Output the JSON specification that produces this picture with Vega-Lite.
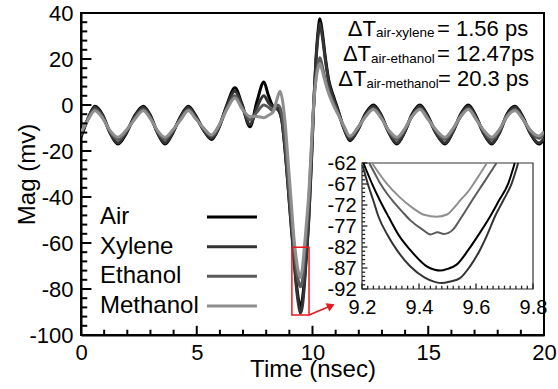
{
"$schema": "https://vega.github.io/schema/vega-lite/v6.json",
"width": 463, "height": 322,
"autosize": {"type": "none"},
"padding": {"left": 81, "top": 13, "right": 14, "bottom": 54},
"config": {
  "font": "Liberation Sans",
  "view": {"stroke": "black", "strokeWidth": 2},
  "axis": {"grid": false, "labelColor": "black", "titleColor": "black", "tickColor": "black", "domainColor": "black", "labelFont": "Liberation Sans", "titleFont": "Liberation Sans", "titleFontWeight": "normal"}
},
"datasets": {
  "xmajor": [{"t":0},{"t":5},{"t":10},{"t":15},{"t":20}],
  "xminor": [{"t":1},{"t":2},{"t":3},{"t":4},{"t":6},{"t":7},{"t":8},{"t":9},{"t":11},{"t":12},{"t":13},{"t":14},{"t":16},{"t":17},{"t":18},{"t":19}],
  "ymajor": [{"v":-100},{"v":-80},{"v":-60},{"v":-40},{"v":-20},{"v":0},{"v":20},{"v":40}],
  "yminor": [{"v":-96},{"v":-92},{"v":-88},{"v":-84},{"v":-76},{"v":-72},{"v":-68},{"v":-64},{"v":-56},{"v":-52},{"v":-48},{"v":-44},{"v":-36},{"v":-32},{"v":-28},{"v":-24},{"v":-16},{"v":-12},{"v":-8},{"v":-4},{"v":4},{"v":8},{"v":12},{"v":16},{"v":24},{"v":28},{"v":32},{"v":36}],
  "ixmajor": [{"t":9.2},{"t":9.4},{"t":9.6},{"t":9.8}],
  "ixminor": [{"t":9.22},{"t":9.24},{"t":9.26},{"t":9.28},{"t":9.3},{"t":9.32},{"t":9.34},{"t":9.36},{"t":9.38},{"t":9.42},{"t":9.44},{"t":9.46},{"t":9.48},{"t":9.5},{"t":9.52},{"t":9.54},{"t":9.56},{"t":9.58},{"t":9.62},{"t":9.64},{"t":9.66},{"t":9.68},{"t":9.7},{"t":9.72},{"t":9.74},{"t":9.76},{"t":9.78}],
  "iymajor": [{"v":-92},{"v":-87},{"v":-82},{"v":-77},{"v":-72},{"v":-67},{"v":-62}],
  "iyminor": [{"v":-91},{"v":-90},{"v":-89},{"v":-88},{"v":-86},{"v":-85},{"v":-84},{"v":-83},{"v":-81},{"v":-80},{"v":-79},{"v":-78},{"v":-76},{"v":-75},{"v":-74},{"v":-73},{"v":-71},{"v":-70},{"v":-69},{"v":-68},{"v":-66},{"v":-65},{"v":-64},{"v":-63}],
  "main": [
    {"series":"Air","time":0,"mag":-14},{"series":"Air","time":0.3,"mag":-6},{"series":"Air","time":0.6,"mag":-0.5},{"series":"Air","time":0.95,"mag":-4.5},{"series":"Air","time":1.25,"mag":-12},{"series":"Air","time":1.6,"mag":-17},{"series":"Air","time":1.95,"mag":-12.5},{"series":"Air","time":2.3,"mag":-5},{"series":"Air","time":2.69,"mag":-0.5},{"series":"Air","time":3.0,"mag":-4.5},{"series":"Air","time":3.3,"mag":-12},{"series":"Air","time":3.63,"mag":-17},{"series":"Air","time":3.95,"mag":-12.5},{"series":"Air","time":4.3,"mag":-5},{"series":"Air","time":4.64,"mag":-0.5},{"series":"Air","time":4.95,"mag":-4.5},{"series":"Air","time":5.3,"mag":-11},{"series":"Air","time":5.64,"mag":-15},{"series":"Air","time":5.95,"mag":-10},{"series":"Air","time":6.3,"mag":0},{"series":"Air","time":6.65,"mag":7.5},{"series":"Air","time":6.95,"mag":0.5},{"series":"Air","time":7.3,"mag":-9.5},{"series":"Air","time":7.6,"mag":1.5},{"series":"Air","time":7.9,"mag":10},{"series":"Air","time":8.1,"mag":4},{"series":"Air","time":8.31,"mag":-0.7},{"series":"Air","time":8.5,"mag":-1.5},{"series":"Air","time":8.68,"mag":-7},{"series":"Air","time":8.8,"mag":-18},{"series":"Air","time":8.95,"mag":-36},{"series":"Air","time":9.08,"mag":-52},{"series":"Air","time":9.2,"mag":-66},{"series":"Air","time":9.3,"mag":-77},{"series":"Air","time":9.4,"mag":-85},{"series":"Air","time":9.48,"mag":-88},{"series":"Air","time":9.57,"mag":-84},{"series":"Air","time":9.66,"mag":-75},{"series":"Air","time":9.75,"mag":-63},{"series":"Air","time":9.85,"mag":-47},{"series":"Air","time":9.95,"mag":-25},{"series":"Air","time":10.05,"mag":0},{"series":"Air","time":10.15,"mag":20},{"series":"Air","time":10.25,"mag":33},{"series":"Air","time":10.32,"mag":37.5},{"series":"Air","time":10.42,"mag":32},{"series":"Air","time":10.55,"mag":21},{"series":"Air","time":10.7,"mag":11},{"series":"Air","time":10.9,"mag":4},{"series":"Air","time":11.1,"mag":-2},{"series":"Air","time":11.35,"mag":-10},{"series":"Air","time":11.62,"mag":-15.5},{"series":"Air","time":11.95,"mag":-11},{"series":"Air","time":12.3,"mag":-3.5},{"series":"Air","time":12.63,"mag":0},{"series":"Air","time":12.95,"mag":-4},{"series":"Air","time":13.3,"mag":-12},{"series":"Air","time":13.64,"mag":-17},{"series":"Air","time":13.97,"mag":-12},{"series":"Air","time":14.3,"mag":-4},{"series":"Air","time":14.64,"mag":0},{"series":"Air","time":14.97,"mag":-4.5},{"series":"Air","time":15.35,"mag":-12.5},{"series":"Air","time":15.72,"mag":-17},{"series":"Air","time":16.05,"mag":-12},{"series":"Air","time":16.4,"mag":-4},{"series":"Air","time":16.73,"mag":0},{"series":"Air","time":17.05,"mag":-4.5},{"series":"Air","time":17.4,"mag":-12.5},{"series":"Air","time":17.74,"mag":-17},{"series":"Air","time":18.08,"mag":-12},{"series":"Air","time":18.4,"mag":-4},{"series":"Air","time":18.75,"mag":-0.5},{"series":"Air","time":19.08,"mag":-5},{"series":"Air","time":19.42,"mag":-12.5},{"series":"Air","time":19.78,"mag":-17},{"series":"Air","time":20,"mag":-15},
    {"series":"Xylene","time":0,"mag":-13.5},{"series":"Xylene","time":0.3,"mag":-6},{"series":"Xylene","time":0.6,"mag":-1},{"series":"Xylene","time":0.95,"mag":-5},{"series":"Xylene","time":1.25,"mag":-12},{"series":"Xylene","time":1.6,"mag":-16.5},{"series":"Xylene","time":1.95,"mag":-12},{"series":"Xylene","time":2.3,"mag":-5.5},{"series":"Xylene","time":2.69,"mag":-1},{"series":"Xylene","time":3.0,"mag":-5},{"series":"Xylene","time":3.3,"mag":-12},{"series":"Xylene","time":3.63,"mag":-16.5},{"series":"Xylene","time":3.95,"mag":-12},{"series":"Xylene","time":4.3,"mag":-5.5},{"series":"Xylene","time":4.64,"mag":-1},{"series":"Xylene","time":4.95,"mag":-5},{"series":"Xylene","time":5.3,"mag":-11},{"series":"Xylene","time":5.64,"mag":-14.5},{"series":"Xylene","time":5.95,"mag":-10},{"series":"Xylene","time":6.3,"mag":-0.5},{"series":"Xylene","time":6.65,"mag":6},{"series":"Xylene","time":6.95,"mag":0},{"series":"Xylene","time":7.3,"mag":-8.5},{"series":"Xylene","time":7.6,"mag":-1},{"series":"Xylene","time":7.9,"mag":4},{"series":"Xylene","time":8.1,"mag":1},{"series":"Xylene","time":8.31,"mag":-1},{"series":"Xylene","time":8.5,"mag":-2},{"series":"Xylene","time":8.68,"mag":-7},{"series":"Xylene","time":8.8,"mag":-18},{"series":"Xylene","time":8.95,"mag":-36},{"series":"Xylene","time":9.08,"mag":-53},{"series":"Xylene","time":9.2,"mag":-67},{"series":"Xylene","time":9.3,"mag":-79},{"series":"Xylene","time":9.4,"mag":-87},{"series":"Xylene","time":9.48,"mag":-90.5},{"series":"Xylene","time":9.57,"mag":-87},{"series":"Xylene","time":9.66,"mag":-77},{"series":"Xylene","time":9.75,"mag":-64},{"series":"Xylene","time":9.85,"mag":-48},{"series":"Xylene","time":9.95,"mag":-26},{"series":"Xylene","time":10.05,"mag":-1},{"series":"Xylene","time":10.15,"mag":19},{"series":"Xylene","time":10.25,"mag":31},{"series":"Xylene","time":10.32,"mag":35.5},{"series":"Xylene","time":10.42,"mag":30},{"series":"Xylene","time":10.55,"mag":20},{"series":"Xylene","time":10.7,"mag":10},{"series":"Xylene","time":10.9,"mag":3},{"series":"Xylene","time":11.1,"mag":-2.5},{"series":"Xylene","time":11.35,"mag":-10},{"series":"Xylene","time":11.62,"mag":-15},{"series":"Xylene","time":11.95,"mag":-11},{"series":"Xylene","time":12.3,"mag":-4},{"series":"Xylene","time":12.63,"mag":-0.5},{"series":"Xylene","time":12.95,"mag":-4.5},{"series":"Xylene","time":13.3,"mag":-12},{"series":"Xylene","time":13.64,"mag":-16.5},{"series":"Xylene","time":13.97,"mag":-12},{"series":"Xylene","time":14.3,"mag":-4.5},{"series":"Xylene","time":14.64,"mag":-0.5},{"series":"Xylene","time":14.97,"mag":-5},{"series":"Xylene","time":15.35,"mag":-12.5},{"series":"Xylene","time":15.72,"mag":-16.5},{"series":"Xylene","time":16.05,"mag":-12},{"series":"Xylene","time":16.4,"mag":-4.5},{"series":"Xylene","time":16.73,"mag":-0.5},{"series":"Xylene","time":17.05,"mag":-5},{"series":"Xylene","time":17.4,"mag":-12.5},{"series":"Xylene","time":17.74,"mag":-16.5},{"series":"Xylene","time":18.08,"mag":-12},{"series":"Xylene","time":18.4,"mag":-4.5},{"series":"Xylene","time":18.75,"mag":-1},{"series":"Xylene","time":19.08,"mag":-5.5},{"series":"Xylene","time":19.42,"mag":-12.5},{"series":"Xylene","time":19.78,"mag":-16.5},{"series":"Xylene","time":20,"mag":-14.5},
    {"series":"Ethanol","time":0,"mag":-12.5},{"series":"Ethanol","time":0.3,"mag":-6},{"series":"Ethanol","time":0.6,"mag":-2},{"series":"Ethanol","time":0.95,"mag":-5.5},{"series":"Ethanol","time":1.25,"mag":-11.5},{"series":"Ethanol","time":1.6,"mag":-15},{"series":"Ethanol","time":1.95,"mag":-11.5},{"series":"Ethanol","time":2.3,"mag":-6},{"series":"Ethanol","time":2.69,"mag":-2},{"series":"Ethanol","time":3.0,"mag":-5.5},{"series":"Ethanol","time":3.3,"mag":-11.5},{"series":"Ethanol","time":3.63,"mag":-15},{"series":"Ethanol","time":3.95,"mag":-11.5},{"series":"Ethanol","time":4.3,"mag":-6},{"series":"Ethanol","time":4.64,"mag":-2},{"series":"Ethanol","time":4.95,"mag":-5.5},{"series":"Ethanol","time":5.3,"mag":-10.5},{"series":"Ethanol","time":5.64,"mag":-13.5},{"series":"Ethanol","time":5.95,"mag":-9.5},{"series":"Ethanol","time":6.3,"mag":-1.5},{"series":"Ethanol","time":6.65,"mag":4},{"series":"Ethanol","time":6.95,"mag":-1},{"series":"Ethanol","time":7.3,"mag":-6.5},{"series":"Ethanol","time":7.6,"mag":-3},{"series":"Ethanol","time":7.9,"mag":0},{"series":"Ethanol","time":8.1,"mag":-1},{"series":"Ethanol","time":8.3,"mag":-2.5},{"series":"Ethanol","time":8.5,"mag":0},{"series":"Ethanol","time":8.68,"mag":-4},{"series":"Ethanol","time":8.8,"mag":-14},{"series":"Ethanol","time":8.95,"mag":-32},{"series":"Ethanol","time":9.08,"mag":-48},{"series":"Ethanol","time":9.2,"mag":-62},{"series":"Ethanol","time":9.3,"mag":-71},{"series":"Ethanol","time":9.4,"mag":-77},{"series":"Ethanol","time":9.48,"mag":-79},{"series":"Ethanol","time":9.57,"mag":-76},{"series":"Ethanol","time":9.66,"mag":-65},{"series":"Ethanol","time":9.75,"mag":-55},{"series":"Ethanol","time":9.85,"mag":-40},{"series":"Ethanol","time":9.95,"mag":-20},{"series":"Ethanol","time":10.05,"mag":0},{"series":"Ethanol","time":10.15,"mag":12},{"series":"Ethanol","time":10.25,"mag":18.5},{"series":"Ethanol","time":10.32,"mag":20.5},{"series":"Ethanol","time":10.42,"mag":17},{"series":"Ethanol","time":10.55,"mag":11},{"series":"Ethanol","time":10.7,"mag":6},{"series":"Ethanol","time":10.9,"mag":1},{"series":"Ethanol","time":11.1,"mag":-3.5},{"series":"Ethanol","time":11.35,"mag":-9.5},{"series":"Ethanol","time":11.62,"mag":-14},{"series":"Ethanol","time":11.95,"mag":-10},{"series":"Ethanol","time":12.3,"mag":-4.5},{"series":"Ethanol","time":12.63,"mag":-1.5},{"series":"Ethanol","time":12.95,"mag":-5},{"series":"Ethanol","time":13.3,"mag":-11.5},{"series":"Ethanol","time":13.64,"mag":-15},{"series":"Ethanol","time":13.97,"mag":-11},{"series":"Ethanol","time":14.3,"mag":-5},{"series":"Ethanol","time":14.64,"mag":-1.5},{"series":"Ethanol","time":14.97,"mag":-5.5},{"series":"Ethanol","time":15.35,"mag":-11.5},{"series":"Ethanol","time":15.72,"mag":-15},{"series":"Ethanol","time":16.05,"mag":-11},{"series":"Ethanol","time":16.4,"mag":-5},{"series":"Ethanol","time":16.73,"mag":-1.5},{"series":"Ethanol","time":17.05,"mag":-5.5},{"series":"Ethanol","time":17.4,"mag":-11.5},{"series":"Ethanol","time":17.74,"mag":-15},{"series":"Ethanol","time":18.08,"mag":-11},{"series":"Ethanol","time":18.4,"mag":-5},{"series":"Ethanol","time":18.75,"mag":-2},{"series":"Ethanol","time":19.08,"mag":-6},{"series":"Ethanol","time":19.42,"mag":-11.5},{"series":"Ethanol","time":19.78,"mag":-14.5},{"series":"Ethanol","time":20,"mag":-12.5},
    {"series":"Methanol","time":0,"mag":-12},{"series":"Methanol","time":0.3,"mag":-6.5},{"series":"Methanol","time":0.6,"mag":-2.5},{"series":"Methanol","time":0.95,"mag":-6},{"series":"Methanol","time":1.25,"mag":-11},{"series":"Methanol","time":1.6,"mag":-14},{"series":"Methanol","time":1.95,"mag":-11},{"series":"Methanol","time":2.3,"mag":-6.5},{"series":"Methanol","time":2.69,"mag":-2.5},{"series":"Methanol","time":3.0,"mag":-6},{"series":"Methanol","time":3.3,"mag":-11},{"series":"Methanol","time":3.63,"mag":-14},{"series":"Methanol","time":3.95,"mag":-11},{"series":"Methanol","time":4.3,"mag":-6.5},{"series":"Methanol","time":4.64,"mag":-2.5},{"series":"Methanol","time":4.95,"mag":-6},{"series":"Methanol","time":5.3,"mag":-10},{"series":"Methanol","time":5.64,"mag":-13},{"series":"Methanol","time":5.95,"mag":-9},{"series":"Methanol","time":6.3,"mag":-2},{"series":"Methanol","time":6.65,"mag":3},{"series":"Methanol","time":6.95,"mag":-1.5},{"series":"Methanol","time":7.3,"mag":-5},{"series":"Methanol","time":7.6,"mag":-5},{"series":"Methanol","time":7.9,"mag":-5.5},{"series":"Methanol","time":8.1,"mag":-4.5},{"series":"Methanol","time":8.3,"mag":-3},{"series":"Methanol","time":8.45,"mag":2},{"series":"Methanol","time":8.6,"mag":6},{"series":"Methanol","time":8.72,"mag":1},{"series":"Methanol","time":8.82,"mag":-8},{"series":"Methanol","time":8.95,"mag":-25},{"series":"Methanol","time":9.08,"mag":-42},{"series":"Methanol","time":9.2,"mag":-58},{"series":"Methanol","time":9.3,"mag":-67},{"series":"Methanol","time":9.4,"mag":-73},{"series":"Methanol","time":9.47,"mag":-75},{"series":"Methanol","time":9.55,"mag":-72},{"series":"Methanol","time":9.64,"mag":-63},{"series":"Methanol","time":9.75,"mag":-50},{"series":"Methanol","time":9.85,"mag":-37},{"series":"Methanol","time":9.95,"mag":-18},{"series":"Methanol","time":10.05,"mag":0},{"series":"Methanol","time":10.15,"mag":11},{"series":"Methanol","time":10.25,"mag":16.5},{"series":"Methanol","time":10.32,"mag":18},{"series":"Methanol","time":10.42,"mag":15},{"series":"Methanol","time":10.55,"mag":10},{"series":"Methanol","time":10.7,"mag":5},{"series":"Methanol","time":10.9,"mag":0},{"series":"Methanol","time":11.1,"mag":-4},{"series":"Methanol","time":11.35,"mag":-9},{"series":"Methanol","time":11.62,"mag":-13.5},{"series":"Methanol","time":11.95,"mag":-10},{"series":"Methanol","time":12.3,"mag":-5},{"series":"Methanol","time":12.63,"mag":-2},{"series":"Methanol","time":12.95,"mag":-5.5},{"series":"Methanol","time":13.3,"mag":-11},{"series":"Methanol","time":13.64,"mag":-14},{"series":"Methanol","time":13.97,"mag":-10.5},{"series":"Methanol","time":14.3,"mag":-5},{"series":"Methanol","time":14.64,"mag":-2},{"series":"Methanol","time":14.97,"mag":-6},{"series":"Methanol","time":15.35,"mag":-11},{"series":"Methanol","time":15.72,"mag":-14},{"series":"Methanol","time":16.05,"mag":-10.5},{"series":"Methanol","time":16.4,"mag":-5},{"series":"Methanol","time":16.73,"mag":-2},{"series":"Methanol","time":17.05,"mag":-6},{"series":"Methanol","time":17.4,"mag":-11},{"series":"Methanol","time":17.74,"mag":-14},{"series":"Methanol","time":18.08,"mag":-10.5},{"series":"Methanol","time":18.4,"mag":-5},{"series":"Methanol","time":18.75,"mag":-2.5},{"series":"Methanol","time":19.08,"mag":-6},{"series":"Methanol","time":19.42,"mag":-11},{"series":"Methanol","time":19.78,"mag":-13.5},{"series":"Methanol","time":20,"mag":-11.5}
  ],
  "inset": [
    {"series":"Air","time":9.205,"mag":-62},{"series":"Air","time":9.235,"mag":-66.9},{"series":"Air","time":9.262,"mag":-70.8},{"series":"Air","time":9.293,"mag":-74.8},{"series":"Air","time":9.33,"mag":-79.3},{"series":"Air","time":9.369,"mag":-82.7},{"series":"Air","time":9.4,"mag":-85},{"series":"Air","time":9.427,"mag":-86.6},{"series":"Air","time":9.455,"mag":-87.4},{"series":"Air","time":9.474,"mag":-87.6},{"series":"Air","time":9.5,"mag":-87.2},{"series":"Air","time":9.532,"mag":-86.2},{"series":"Air","time":9.573,"mag":-82.7},{"series":"Air","time":9.61,"mag":-79},{"series":"Air","time":9.649,"mag":-74.8},{"series":"Air","time":9.68,"mag":-71},{"series":"Air","time":9.713,"mag":-66.9},{"series":"Air","time":9.736,"mag":-62},
    {"series":"Xylene","time":9.202,"mag":-62.5},{"series":"Xylene","time":9.22,"mag":-66.9},{"series":"Xylene","time":9.24,"mag":-71},{"series":"Xylene","time":9.258,"mag":-74.8},{"series":"Xylene","time":9.29,"mag":-79.2},{"series":"Xylene","time":9.322,"mag":-82.7},{"series":"Xylene","time":9.369,"mag":-86.6},{"series":"Xylene","time":9.42,"mag":-89.3},{"series":"Xylene","time":9.455,"mag":-90.3},{"series":"Xylene","time":9.48,"mag":-90.6},{"series":"Xylene","time":9.51,"mag":-90.2},{"series":"Xylene","time":9.544,"mag":-89.4},{"series":"Xylene","time":9.579,"mag":-86.6},{"series":"Xylene","time":9.614,"mag":-82.7},{"series":"Xylene","time":9.64,"mag":-79},{"series":"Xylene","time":9.666,"mag":-74.8},{"series":"Xylene","time":9.695,"mag":-71},{"series":"Xylene","time":9.725,"mag":-66.9},{"series":"Xylene","time":9.748,"mag":-62},
    {"series":"Ethanol","time":9.225,"mag":-62},{"series":"Ethanol","time":9.245,"mag":-64.5},{"series":"Ethanol","time":9.264,"mag":-66.9},{"series":"Ethanol","time":9.29,"mag":-69.5},{"series":"Ethanol","time":9.31,"mag":-71.2},{"series":"Ethanol","time":9.34,"mag":-73.5},{"series":"Ethanol","time":9.369,"mag":-75.6},{"series":"Ethanol","time":9.415,"mag":-78},{"series":"Ethanol","time":9.44,"mag":-79},{"series":"Ethanol","time":9.465,"mag":-78.5},{"series":"Ethanol","time":9.487,"mag":-78.9},{"series":"Ethanol","time":9.52,"mag":-77.8},{"series":"Ethanol","time":9.55,"mag":-74.8},{"series":"Ethanol","time":9.59,"mag":-70.5},{"series":"Ethanol","time":9.625,"mag":-66.9},{"series":"Ethanol","time":9.672,"mag":-62},
    {"series":"Methanol","time":9.235,"mag":-62},{"series":"Methanol","time":9.26,"mag":-64.5},{"series":"Methanol","time":9.287,"mag":-66.9},{"series":"Methanol","time":9.33,"mag":-70},{"series":"Methanol","time":9.38,"mag":-72.8},{"series":"Methanol","time":9.421,"mag":-74.4},{"series":"Methanol","time":9.462,"mag":-74.8},{"series":"Methanol","time":9.5,"mag":-74.2},{"series":"Methanol","time":9.525,"mag":-72.5},{"series":"Methanol","time":9.546,"mag":-70.8},{"series":"Methanol","time":9.57,"mag":-69},{"series":"Methanol","time":9.592,"mag":-66.9},{"series":"Methanol","time":9.615,"mag":-64.5},{"series":"Methanol","time":9.638,"mag":-62}
  ]
},
"layer": [
  {
    "layer": [
      {
        "data": {"name": "main"},
        "mark": {"type": "line", "interpolate": "monotone", "strokeWidth": 3, "clip": true},
        "encoding": {
          "x": {"field": "time", "type": "quantitative", "scale": {"domain": [0, 20], "nice": false, "zero": false},
            "axis": {"values": [0, 5, 10, 15, 20], "labelExpr": "'' + datum.value", "ticks": false,
              "domainWidth": 2, "labelFontSize": 22, "labelPadding": 7, "labelOverlap": false, "labelFlush": false,
              "title": "Time (nsec)", "titleFontSize": 24, "titlePadding": -6}},
          "y": {"field": "mag", "type": "quantitative", "scale": {"domain": [-100, 40], "nice": false, "zero": false},
            "axis": {"values": [-100, -80, -60, -40, -20, 0, 20, 40], "labelExpr": "'' + datum.value", "ticks": false,
              "domainWidth": 2, "labelFontSize": 22, "labelPadding": 8, "labelOverlap": false, "labelFlush": false,
              "title": "Mag (mv)", "titleFontSize": 24, "titlePadding": -11}},
          "color": {"field": "series", "type": "nominal", "scale": {"domain": ["Air", "Xylene", "Ethanol", "Methanol"], "range": ["#000000", "#333333", "#5a5a5a", "#8f8f8f"]}, "legend": null}
        }
      },
      {"data": {"name": "xmajor"}, "mark": {"type": "rule", "color": "black", "strokeWidth": 2},
       "encoding": {"x": {"field": "t", "type": "quantitative"}, "y": {"datum": -100, "type": "quantitative"}, "y2": {"datum": -96.0}}},
      {"data": {"name": "xminor"}, "mark": {"type": "rule", "color": "black", "strokeWidth": 2},
       "encoding": {"x": {"field": "t", "type": "quantitative"}, "y": {"datum": -100, "type": "quantitative"}, "y2": {"datum": -97.7}}},
      {"data": {"name": "ymajor"}, "mark": {"type": "rule", "color": "black", "strokeWidth": 2},
       "encoding": {"y": {"field": "v", "type": "quantitative"}, "x": {"datum": 0, "type": "quantitative"}, "x2": {"datum": 0.45}}},
      {"data": {"name": "yminor"}, "mark": {"type": "rule", "color": "black", "strokeWidth": 2},
       "encoding": {"y": {"field": "v", "type": "quantitative"}, "x": {"datum": 0, "type": "quantitative"}, "x2": {"datum": 0.27}}},
      {"data": {"values": [{}]}, "mark": {"type": "rect", "fillOpacity": 0, "stroke": "#e8191f", "strokeWidth": 1.5},
       "encoding": {"x": {"datum": 9.11, "type": "quantitative"}, "x2": {"datum": 9.85}, "y": {"datum": -61.9, "type": "quantitative"}, "y2": {"datum": -91.3}}},
      {"data": {"values": [{}]}, "mark": {"type": "rule", "color": "#e8191f", "strokeWidth": 1.5},
       "encoding": {"x": {"datum": 9.85, "type": "quantitative"}, "x2": {"datum": 10.8}, "y": {"datum": -91.3, "type": "quantitative"}, "y2": {"datum": -87.3}}},
      {"data": {"values": [{}]}, "mark": {"type": "point", "shape": "triangle-right", "filled": true, "color": "#e8191f", "opacity": 1, "size": 80, "angle": -25},
       "encoding": {"x": {"datum": 10.8, "type": "quantitative"}, "y": {"datum": -87.3, "type": "quantitative"}}},
      {"data": {"values": [{}]}, "mark": {"type": "text", "align": "right", "baseline": "alphabetic", "fontSize": 22, "color": "black"},
       "encoding": {"x": {"datum": 12.74, "type": "quantitative"}, "y": {"datum": 30.2, "type": "quantitative"}, "text": {"value": "ΔT"}}},
      {"data": {"values": [{}]}, "mark": {"type": "text", "align": "left", "baseline": "alphabetic", "fontSize": 13.5, "color": "black"},
       "encoding": {"x": {"datum": 12.74, "type": "quantitative"}, "y": {"datum": 29.6, "type": "quantitative"}, "text": {"value": "air-xylene"}}},
      {"data": {"values": [{}]}, "mark": {"type": "text", "align": "left", "baseline": "alphabetic", "fontSize": 22, "color": "black"},
       "encoding": {"x": {"datum": 15.38, "type": "quantitative"}, "y": {"datum": 30.2, "type": "quantitative"}, "text": {"value": "= 1.56 ps"}}},
      {"data": {"values": [{}]}, "mark": {"type": "text", "align": "right", "baseline": "alphabetic", "fontSize": 22, "color": "black"},
       "encoding": {"x": {"datum": 12.53, "type": "quantitative"}, "y": {"datum": 19.0, "type": "quantitative"}, "text": {"value": "ΔT"}}},
      {"data": {"values": [{}]}, "mark": {"type": "text", "align": "left", "baseline": "alphabetic", "fontSize": 13.5, "color": "black"},
       "encoding": {"x": {"datum": 12.53, "type": "quantitative"}, "y": {"datum": 18.3, "type": "quantitative"}, "text": {"value": "air-ethanol"}}},
      {"data": {"values": [{}]}, "mark": {"type": "text", "align": "left", "baseline": "alphabetic", "fontSize": 22, "color": "black"},
       "encoding": {"x": {"datum": 15.38, "type": "quantitative"}, "y": {"datum": 19.0, "type": "quantitative"}, "text": {"value": "= 12.47ps"}}},
      {"data": {"values": [{}]}, "mark": {"type": "text", "align": "right", "baseline": "alphabetic", "fontSize": 22, "color": "black"},
       "encoding": {"x": {"datum": 12.33, "type": "quantitative"}, "y": {"datum": 8.26, "type": "quantitative"}, "text": {"value": "ΔT"}}},
      {"data": {"values": [{}]}, "mark": {"type": "text", "align": "left", "baseline": "alphabetic", "fontSize": 13, "color": "black"},
       "encoding": {"x": {"datum": 12.33, "type": "quantitative"}, "y": {"datum": 7.6, "type": "quantitative"}, "text": {"value": "air-methanol"}}},
      {"data": {"values": [{}]}, "mark": {"type": "text", "align": "left", "baseline": "alphabetic", "fontSize": 22, "color": "black"},
       "encoding": {"x": {"datum": 15.42, "type": "quantitative"}, "y": {"datum": 8.26, "type": "quantitative"}, "text": {"value": "= 20.3 ps"}}}
    ]
  },
  {
    "data": {"values": [{"series": "Air"}, {"series": "Xylene"}, {"series": "Ethanol"}, {"series": "Methanol"}]},
    "layer": [
      {"mark": {"type": "rule", "strokeWidth": 3},
       "encoding": {
         "x": {"datum": 5.44, "type": "quantitative", "scale": {"domain": [0, 20], "nice": false, "zero": false}, "axis": null},
         "x2": {"datum": 7.6},
         "y": {"field": "series", "type": "nominal", "scale": {"type": "point", "domain": ["Air", "Xylene", "Ethanol", "Methanol"], "range": [204, 293], "padding": 0}, "axis": null},
         "color": {"field": "series", "type": "nominal", "legend": null}}},
      {"mark": {"type": "text", "align": "left", "baseline": "middle", "fontSize": 24, "color": "black"},
       "encoding": {
         "x": {"datum": 0.82, "type": "quantitative"},
         "y": {"field": "series", "type": "nominal"},
         "text": {"field": "series"}}}
    ]
  },
  {
    "layer": [
      {"data": {"values": [{}]}, "mark": {"type": "rect", "fill": "white", "stroke": "#333333", "strokeWidth": 1.2},
       "encoding": {
         "x": {"datum": 9.2, "type": "quantitative", "scale": {"domain": [9.2, 9.8], "range": [281, 452], "nice": false, "zero": false}, "title": null},
         "x2": {"datum": 9.8},
         "y": {"datum": -92, "type": "quantitative", "scale": {"domain": [-92, -62], "range": [276, 150], "nice": false, "zero": false}, "title": null},
         "y2": {"datum": -62}}},
      {"data": {"name": "ixmajor"}, "mark": {"type": "rule", "color": "#222222", "strokeWidth": 1.3},
       "encoding": {"x": {"field": "t", "type": "quantitative"}, "y": {"datum": -92, "type": "quantitative"}, "y2": {"datum": -90.7}}},
      {"data": {"name": "ixminor"}, "mark": {"type": "rule", "color": "#222222", "strokeWidth": 1.3},
       "encoding": {"x": {"field": "t", "type": "quantitative"}, "y": {"datum": -92, "type": "quantitative"}, "y2": {"datum": -91.2}}},
      {"data": {"name": "iymajor"}, "mark": {"type": "rule", "color": "#222222", "strokeWidth": 1.3},
       "encoding": {"y": {"field": "v", "type": "quantitative"}, "x": {"datum": 9.2, "type": "quantitative"}, "x2": {"datum": 9.219}}},
      {"data": {"name": "iyminor"}, "mark": {"type": "rule", "color": "#222222", "strokeWidth": 1.3},
       "encoding": {"y": {"field": "v", "type": "quantitative"}, "x": {"datum": 9.2, "type": "quantitative"}, "x2": {"datum": 9.211}}},
      {"data": {"name": "inset"}, "mark": {"type": "line", "interpolate": "monotone", "strokeWidth": 2},
       "encoding": {
         "x": {"field": "time", "type": "quantitative",
           "axis": {"orient": "bottom", "offset": -46, "domain": false, "ticks": false, "zindex": 1,
             "values": [9.2, 9.4, 9.6, 9.8], "labelExpr": "format(datum.value, '.1f')",
             "labelFontSize": 20, "labelPadding": 8, "labelOverlap": false, "labelFlush": false, "title": null}},
         "y": {"field": "mag", "type": "quantitative",
           "axis": {"orient": "left", "offset": -281, "domain": false, "ticks": false, "zindex": 1,
             "values": [-92, -87, -82, -77, -72, -67, -62], "labelExpr": "'' + datum.value",
             "labelFontSize": 20, "labelPadding": 6, "labelOverlap": false, "labelFlush": false, "title": null}},
         "color": {"field": "series", "type": "nominal", "legend": null}}}
    ]
  }
],
"resolve": {"scale": {"x": "independent", "y": "independent"}}
}
